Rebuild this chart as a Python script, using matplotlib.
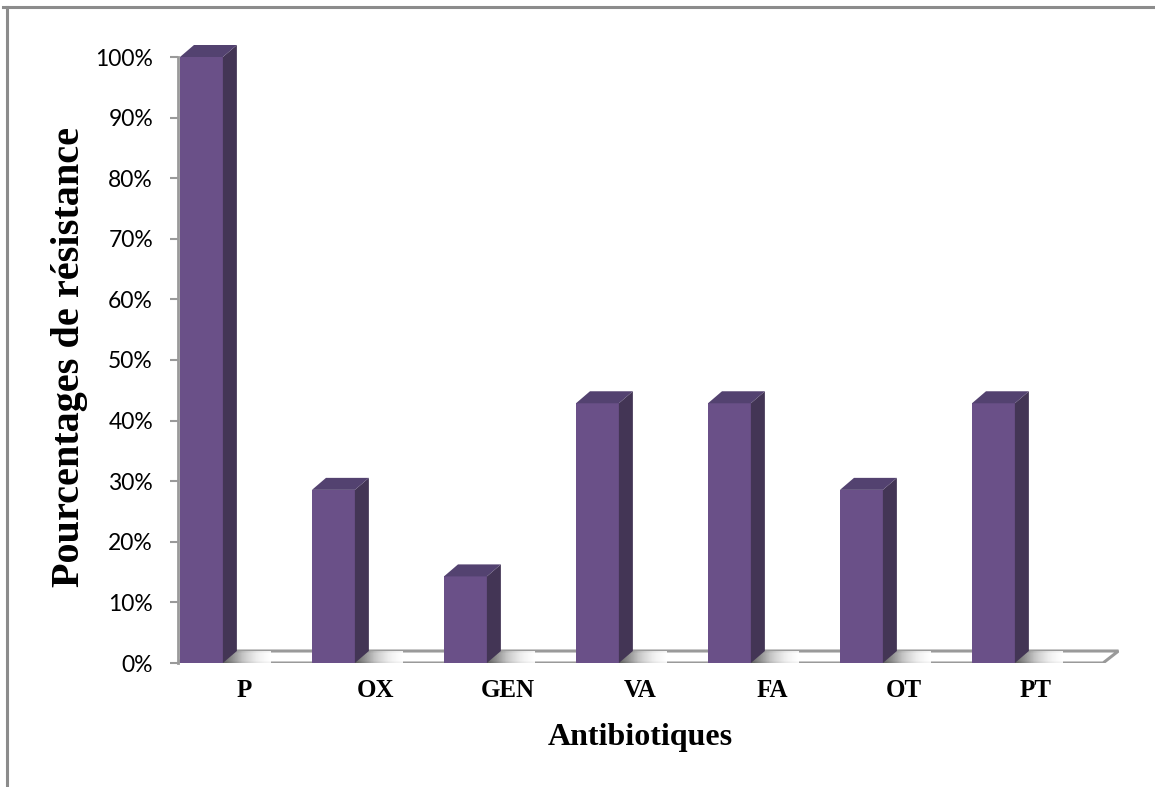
import numpy as np
import matplotlib
matplotlib.use("Agg")
import matplotlib.pyplot as plt
from matplotlib.patches import Polygon, Rectangle
from matplotlib.lines import Line2D

# Resistance rates per antibiotic (%)
categories = ["P", "OX", "GEN", "VA", "FA", "OT", "PT"]
resistance = [100.0, 28.57, 14.29, 42.86, 42.86, 28.57, 42.86]
tick_values = [0, 10, 20, 30, 40, 50, 60, 70, 80, 90, 100]
tick_labels = [f"{v}%" for v in tick_values]

FRONT = "#6A5088"
SIDE = "#433555"
TOP = "#534270"
EDGE_GRAY = "#9A9A9A"

W, H = 1155, 787
fig = plt.figure(figsize=(W / 100, H / 100), dpi=100)

# axes geometry in pixels
px_left, px_zero, px_per_cat, px_per_pct = 178, 663, 132, 6.06
xmax = 7.13
ymax = 104
ax = fig.add_axes([px_left / W, (H - px_zero) / H,
                   xmax * px_per_cat / W, ymax * px_per_pct / H])
ax.set_xlim(0, xmax)
ax.set_ylim(0, ymax)

# depth offsets of the pseudo-3D look
dx = 14 / px_per_cat
dy = 12 / px_per_pct
bar_l, bar_r = 0.015, 0.34

# floor
n = len(categories)
floor = Polygon([(0, 0), (n + 0.008, 0), (n + 0.008 + dx * 1.1, dy), (dx, dy)],
                closed=True, facecolor="white", edgecolor=EDGE_GRAY, lw=2.2, zorder=1)
ax.add_patch(floor)

# soft shadows cast on the floor to the right of each bar
grad = np.linspace(1, 0, 64) ** 1.3
grad = grad.reshape(1, -1)
for k in range(n):
    x0 = k + bar_r
    im = ax.imshow(grad, extent=(x0, x0 + 0.36, 0, dy), aspect="auto",
                   cmap="Greys", vmin=0, vmax=1.35, alpha=0.9, zorder=1.5,
                   interpolation="bilinear")
    im.set_clip_path(floor)

# bars
for k, v in enumerate(resistance):
    l, r = k + bar_l, k + bar_r
    ax.add_patch(Rectangle((l, 0), r - l, v, facecolor=FRONT, edgecolor="none", zorder=3))
    ax.add_patch(Polygon([(r, 0), (r + dx, dy), (r + dx, v + dy), (r, v)],
                         closed=True, facecolor=SIDE, edgecolor="none", zorder=3))
    ax.add_patch(Polygon([(l, v), (r, v), (r + dx, v + dy), (l + dx, v + dy)],
                         closed=True, facecolor=TOP, edgecolor="none", zorder=3))

# axes styling
for s in ["top", "right", "bottom"]:
    ax.spines[s].set_visible(False)
ax.spines["left"].set_color(EDGE_GRAY)
ax.spines["left"].set_linewidth(2)
ax.spines["left"].set_bounds(0, 100)
ax.spines["left"].set_zorder(4)
ax.set_yticks(tick_values)
ax.set_yticklabels(tick_labels, fontfamily="Lato", fontsize=16.5)
ax.tick_params(axis="y", length=6, width=1.5, color=EDGE_GRAY, pad=12)
ax.set_xticks([])

for k, name in enumerate(categories):
    ax.text(k + 0.5, -4.6, name, ha="center", va="center",
            fontfamily="Liberation Serif", fontweight="bold", fontsize=18)

fig.text(640 / W, 1 - 738 / H, "Antibiotiques", ha="center", va="center",
         fontfamily="Liberation Serif", fontweight="bold", fontsize=23)
fig.text(70 / W, 1 - 357 / H, "Pourcentages de résistance", ha="center", va="center",
         rotation=90, fontfamily="Liberation Serif", fontweight="bold", fontsize=29)

# chart area frame (top and left edges)
fig.add_artist(Line2D([3 / W, 1], [1 - 7 / H, 1 - 7 / H], color="#8C8C8C", lw=2.2))
fig.add_artist(Line2D([7 / W, 7 / W], [0, 1 - 7 / H], color="#8C8C8C", lw=2.2))

fig.savefig("out.png", dpi=100, facecolor="white")
